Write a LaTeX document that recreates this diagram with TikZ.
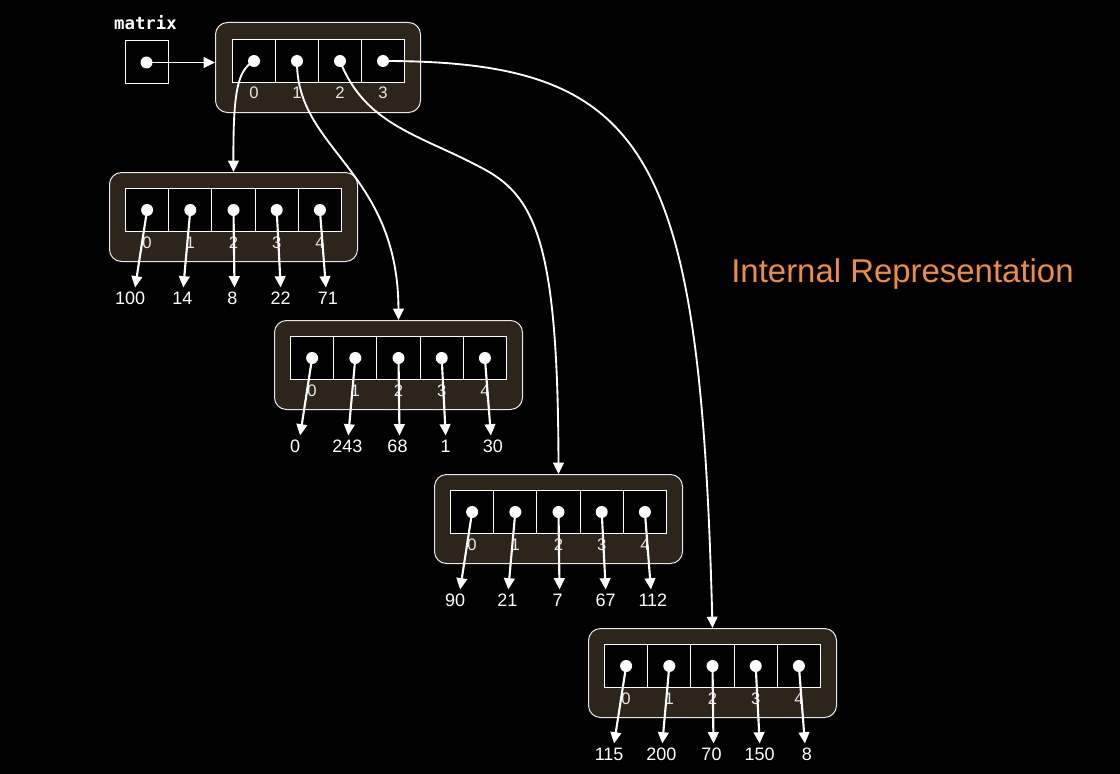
\documentclass[tikz,border=0pt]{standalone}
\usepackage{fontspec}
\setmainfont{Liberation Sans}
\newfontfamily\monofam{DejaVu Sans Mono}
\usetikzlibrary{arrows.meta,calc}
\definecolor{boxfill}{HTML}{2D241A}
\definecolor{titleor}{HTML}{F28C3C}
\definecolor{idxgray}{HTML}{E8E8E8}
\definecolor{boxline}{HTML}{E8E8E8}
\begin{document}
\begin{tikzpicture}[x=0.75pt,y=-0.75pt,
  outerbox/.style={draw=boxline, fill=boxfill, rounded corners=9pt, line width=0.75pt,
    minimum width=186pt, minimum height=66.75pt, inner sep=0pt, anchor=north west},
  cellbox/.style={draw=white, fill=black, line width=0.75pt, minimum width=32.4pt,
    minimum height=32.25pt, inner sep=0pt, anchor=north west},
  dotn/.style={circle, fill=white, minimum size=9pt, inner sep=0pt},
  idx/.style={text=idxgray, inner sep=0pt, font=\fontsize{12.5}{14}\selectfont},
  val/.style={text=white, inner sep=0pt, font=\fontsize{13.5}{15}\selectfont},
  ptr/.style={white, line width=1.6pt, -{Triangle[width=8pt,length=8.5pt]}},
  link/.style={white, line width=1.4pt, -{Triangle[width=8pt,length=8.5pt]}}
]
\useasboundingbox[fill=black] (0,0) rectangle (1120,774);

% matrix variable
\node[text=white, inner sep=0pt, font=\monofam\bfseries\fontsize{13}{15}\selectfont] (mlabel) at (145.5,23) {matrix};
\node[draw=white, line width=0.75pt, minimum size=32.25pt, inner sep=0pt] (m) at (146.5,62.5) {};
\node[dotn] (md) at (m.center) {};

% top-level array
\node[outerbox, minimum width=153.75pt, minimum height=67.5pt] (top) at (215,22) {};
\foreach \i in {0,...,3} {
  \node[cellbox, minimum width=32.25pt] (t\i) at (232+43*\i,39) {};
  \node[idx] (ti\i) at ($(t\i.south)+(0,10)$) {\i};
  \node[dotn] (td\i) at (t\i.center) {};
}
\draw[link] (md.center) -- (md.center -| top.west);

% row arrays
\foreach \r/\x/\y in {0/125/188, 1/290/336, 2/450/490, 3/604/644} {
  \node[outerbox] (o\r) at (\x-16,\y-16) {};
  \foreach \c in {0,...,4} {
    \node[cellbox] (c\r\c) at (\x+43.2*\c,\y) {};
    \node[idx] (i\r\c) at ($(c\r\c.south)+(0,11)$) {\c};
    \node[dotn] (d\r\c) at (c\r\c.center) {};
  }
}

% values and element pointers
\foreach \r/\a/\b/\cc/\d/\e in {0/100/14/8/22/71, 1/0/243/68/1/30, 2/90/21/7/67/112, 3/115/200/70/150/8} {
  \node[val] (v\r0) at ($(c\r0.center)+(-17,88.5)$) {\a};
  \node[val] (v\r1) at ($(c\r1.center)+(-8,88.5)$) {\b};
  \node[val] (v\r2) at ($(c\r2.center)+(-1,88.5)$) {\cc};
  \node[val] (v\r3) at ($(c\r3.center)+(4,88.5)$) {\d};
  \node[val] (v\r4) at ($(c\r4.center)+(8,88.5)$) {\e};
  \draw[ptr] (d\r0.center) -- ($(v\r0.center)+(5,-11)$);
  \draw[ptr] (d\r1.center) -- ($(v\r1.center)+(1,-11)$);
  \draw[ptr] (d\r2.center) -- ($(v\r2.center)+(2,-11)$);
  \draw[ptr] (d\r3.center) -- ($(v\r3.center)+(0,-11)$);
  \draw[ptr] (d\r4.center) -- ($(v\r4.center)+(-2,-11)$);
}

% row pointers from top-level array
\draw[link] (td0.center) .. controls (238,70) and (233,90) .. (c02 |- o0.north);
\draw[link] (td1.center) .. controls (296,150) and (398,170) .. (c12 |- o1.north);
\draw[link] (td2.center) .. controls (365,125) and (420,135) .. (480,167)
                         .. controls (535,195) and (558,240) .. (c22 |- o2.north);
\draw[link] (td3.center) .. controls (650,61) and (700,150) .. (c32 |- o3.north);

% title
\node[text=titleor, inner sep=0pt, font=\fontsize{24.7}{28}\selectfont] (title) at (902.5,274) {Internal Representation};
\end{tikzpicture}
\end{document}
